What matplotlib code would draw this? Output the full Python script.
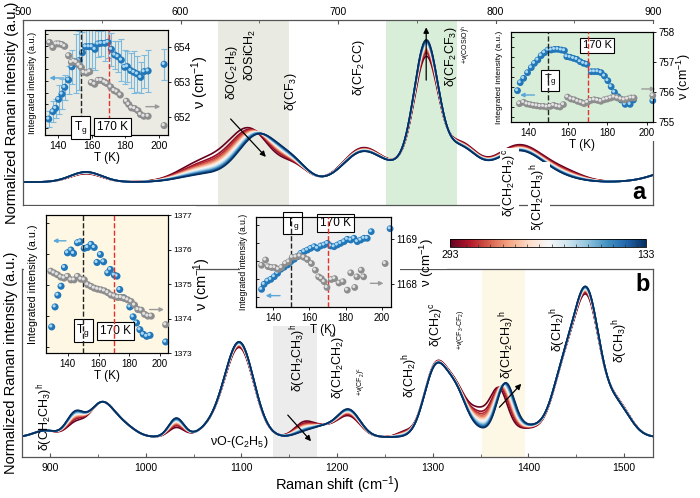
import numpy as np
import matplotlib
matplotlib.use('Agg')
import matplotlib.pyplot as plt
from matplotlib.transforms import offset_copy
from matplotlib.patches import Rectangle
from matplotlib.colors import Normalize
from matplotlib.cm import ScalarMappable
from matplotlib.ticker import MultipleLocator

plt.rcParams['font.family'] = ['Liberation Sans', 'DejaVu Sans']
plt.rcParams['mathtext.fontset'] = 'custom'
plt.rcParams['mathtext.rm'] = 'Liberation Sans'
plt.rcParams['mathtext.it'] = 'Liberation Sans:italic'
plt.rcParams['mathtext.bf'] = 'Liberation Sans:bold'

W, H = 700, 498

# ---------------- data ----------------
temps = [293, 283, 273, 263, 253, 243, 233, 223, 213, 203, 193, 183, 173, 163, 153, 143, 133]

# panel a : Gaussian band parameters (hot = 293 K, cold = 133 K)
a_center_hot  = [540, 615, 644, 672, 715, 756, 750, 778, 815, 845, 925]
a_center_cold = [540, 615, 650, 672, 715, 756, 750, 778, 815, 845, 925]
a_width       = [10, 15, 13, 9, 12, 7.5, 18, 10, 16, 12, 18]
a_amp_hot     = [0.045, 0.11, 0.275, 0.08, 0.17, 0.57, 0.10, 0.17, 0.20, 0.04, 0.10]
a_amp_cold    = [0.055, 0.04, 0.255, 0.08, 0.15, 0.66, 0.10, 0.15, 0.17, 0.01, 0.10]
a_base = 0.124

# panel b
b_center_hot  = [895, 926, 954, 978, 1032, 1070, 1098, 1165, 1185, 1212, 1270, 1303, 1325, 1348, 1369, 1400, 1437, 1461, 1492]
b_center_cold = [895, 926, 954, 978, 1032, 1070, 1098, 1165, 1185, 1212, 1270, 1303, 1325, 1348, 1376, 1400, 1437, 1461, 1492]
b_width       = [12, 9, 13, 12, 8, 14, 15, 10, 12, 12, 8, 12, 11, 10, 9, 25, 12, 13, 14]
b_amp_hot     = [0.035, 0.065, 0.18, 0.05, 0.05, 0.05, 0.47, 0.07, 0.05, 0.11, 0.025, 0.37, 0.22, 0.115, 0.23, 0.045, 0.30, 0.70, 0.18]
b_amp_cold    = [0.035, 0.12, 0.18, 0.05, 0.10, 0.05, 0.50, 0.02, 0.05, 0.145, 0.0, 0.36, 0.21, 0.025, 0.25, 0.06, 0.30, 0.74, 0.17]
b_base = 0.106

# inset a1 (650 band)
a1_T_int = [134.5, 137, 138.6, 140.4, 142.4, 144, 146.3, 148.3, 150.9, 152.5, 154.5, 156.4, 158.4, 160.2, 162,
            163.8, 165.7, 168, 169.7, 171.7, 173.7, 175.6, 177.6, 179.6, 181.2, 183.2, 185.1, 187.1, 189.1, 191.1, 193.5, 203]
a1_int = [0.152, 0.222, 0.254, 0.34, 0.39, 0.454, 0.524, 0.65, 0.683, 0.708, 0.784, 0.841, 0.841, 0.841, 0.816, 0.867,
          0.873, 0.873, 0.883, 0.816, 0.762, 0.746, 0.714, 0.645, 0.651, 0.613, 0.597, 0.581, 0.549, 0.603, 0.61, 0.673]
a1_err = [0.08, 0.1, 0.09, 0.14, 0.14, 0.12, 0.13, 0.16, 0.28, 0.28, 0.2, 0.25, 0.25, 0.2, 0.2, 0.12, 0.12, 0.17,
          0.15, 0.16, 0.13, 0.15, 0.2, 0.16, 0.15, 0.17, 0.2, 0.17, 0.15, 0.16, 0.2, 0.15]
a1_T_nu = [135, 137, 139, 140.6, 142.4, 144, 146.3, 148, 149.5, 150.9, 152.5, 153.9, 155.4, 157.2, 158.8, 159.8, 161.8,
           163.8, 165.7, 167.7, 169.1, 171.3, 173.3, 175, 177, 180.6, 182, 183.6, 185.5, 187.5, 189, 191, 193.5, 203]
a1_nu = [654.14, 654.0, 654.1, 654.1, 654.08, 654.03, 653.76, 653.57, 653.6, 653.57, 653.49, 653.42, 653.28, 653.26,
         653.3, 652.99, 652.94, 653.05, 653.05, 653.0, 652.96, 652.86, 652.76, 652.72, 652.63, 652.45, 652.36, 652.26,
         652.24, 652.18, 652.07, 652.02, 652.02, 651.75]

# inset a2 (756 band)
a2_T_int = [134.4, 135.8, 137.5, 139.5, 141.4, 143, 144.7, 146.4, 148.1, 149.8, 151.5, 153.2, 154.9, 156.6, 158.2, 159.4,
            161.1, 162.8, 164.5, 166.2, 167.9, 169.6, 171.8, 173.4, 175.1, 176.8, 178.5, 180.2, 181.9, 183.6, 185.3, 187,
            189, 191.5, 193.2, 203]
a2_int = [0.348, 0.437, 0.485, 0.548, 0.604, 0.652, 0.689, 0.737, 0.77, 0.8, 0.8, 0.807, 0.807, 0.8, 0.793, 0.726, 0.719,
          0.707, 0.696, 0.67, 0.652, 0.641, 0.559, 0.559, 0.559, 0.548, 0.511, 0.459, 0.393, 0.33, 0.281, 0.244, 0.196,
          0.196, 0.244, 0.237]
a2_T_nu = [135.4, 137.5, 139.2, 140.8, 142.5, 144.2, 145.9, 147.6, 149.3, 151, 152.7, 154.4, 156, 157.7, 159.8, 161.5,
           163.2, 164.9, 166.6, 168.2, 169.9, 171.6, 173.3, 175, 176.7, 178.4, 180, 181.7, 183.4, 185.1, 186.8, 188.5,
           190.2, 191.9, 193.5, 203]
a2_nu = [755.61, 755.655, 755.60, 755.58, 755.555, 755.54, 755.52, 755.52, 755.50, 755.52, 755.555, 755.52, 755.50,
         755.58, 755.83, 755.765, 755.74, 755.69, 755.655, 755.61, 755.655, 755.72, 755.74, 755.72, 755.69, 755.74,
         755.765, 755.80, 755.83, 755.80, 755.765, 755.74, 755.765, 755.80, 755.80, 755.88]

# inset b1 (1373 band)
b1_T_int = [129.5, 131.7, 133.5, 135.6, 137.8, 139.8, 142, 143.7, 146.3, 148.1, 150.7, 152.9, 155.1, 157.2, 159, 161.2,
            163.3, 166, 167.7, 170.3, 172, 173.8, 176.4, 180.4, 182.5, 184.7, 186.9, 189.1, 191.3, 193.5, 203.7]
b1_int = [0.189, 0.334, 0.419, 0.484, 0.62, 0.726, 0.746, 0.722, 0.799, 0.806, 0.758, 0.765, 0.787, 0.765, 0.656, 0.714,
          0.661, 0.581, 0.605, 0.564, 0.557, 0.46, 0.4, 0.334, 0.262, 0.218, 0.169, 0.136, 0.121, 0.128, 0.08]
b1_T_nu = [128.9, 131, 133.2, 135.4, 137.6, 139.8, 142, 144.1, 146.3, 148.5, 150.7, 152.9, 155.1, 157.2, 159.4, 161.6,
           163.8, 166, 168.1, 170.3, 172.5, 174.7, 176.9, 179, 181.2, 183.4, 185.6, 187.8, 190, 192.1, 194.3, 203.7]
b1_nu = [1375.37, 1375.32, 1375.27, 1375.20, 1375.17, 1375.22, 1375.12, 1375.12, 1375.22, 1375.14, 1375.12, 1374.98,
         1374.93, 1374.88, 1374.85, 1374.83, 1374.80, 1374.75, 1374.68, 1374.65, 1374.61, 1374.61, 1374.58, 1374.54,
         1374.49, 1374.39, 1374.26, 1374.24, 1374.12, 1374.07, 1374.07, 1373.82]

# inset b2 (1168 band)
b2_T_int = [133.6, 135, 136.9, 138.7, 140.6, 142.4, 144.2, 146, 147.9, 149.7, 151.6, 153.4, 155.2, 157.1, 158.9, 160.7,
            162.6, 164.4, 166.2, 168.1, 169.9, 171.7, 173.6, 175.4, 177.2, 179.1, 180.9, 182.8, 184.6, 186.4, 188.3,
            190.1, 191.9, 194.1, 204.5]
b2_int = [0.196, 0.252, 0.289, 0.307, 0.337, 0.374, 0.419, 0.441, 0.467, 0.504, 0.53, 0.559, 0.596, 0.615, 0.633, 0.652,
          0.67, 0.652, 0.678, 0.689, 0.707, 0.678, 0.67, 0.689, 0.707, 0.726, 0.752, 0.744, 0.763, 0.726, 0.744, 0.763,
          0.763, 0.837, 0.87]
b2_T_nu = [133.6, 135.8, 137.2, 139.1, 140.9, 142.8, 144.6, 146.8, 148.6, 150.5, 152.5, 154.7, 156.9, 158.9, 161.1,
           163.3, 165.1, 166.6, 168.1, 169.7, 172.1, 173.9, 176.3, 178.5, 180.9, 182.8, 185, 186.2, 188.6, 189.9, 201.8]
b2_nu = [1168.41, 1168.53, 1168.38, 1168.36, 1168.36, 1168.32, 1168.36, 1168.45, 1168.49, 1168.59, 1168.60, 1168.62,
         1168.59, 1168.54, 1168.45, 1168.30, 1168.15, 1168.11, 1168.04, 1167.91, 1168.09, 1168.11, 1168.01, 1168.04,
         1167.85, 1168.24, 1167.91, 1168.15, 1168.30, 1168.15, 1168.45]

# band assignments
a_labels = [(633, 0.714, r'δO(C$_2$H$_5$)', 9), (644.6, 0.81, r'δOSiCH$_2$', 9), (670, 0.611, r'δ(CF$_3$)', 9),
            (713.4, 0.74, r'δ(CF$_2$CC)', 9), (771.5, 0.80, r'δ(CF$_2$CF$_3$)', 9),
            (781.5, 0.865, r'+ν(COSiO)$^{\mathrm{h}}$', 5)]
a_labels_low = [(809, 0.119, r'δ(CH$_2$CH$_2$)$^{\mathrm{c}}$'), (827.4, 0.038, r'δ(CH$_2$CH$_3$)$^{\mathrm{h}}$')]
b_labels = [(894.8, 0.213, r'δ(CH$_2$CH$_3$)$^{\mathrm{h}}$', 9), (1159, 0.527, r'δ(CH$_2$CH$_3$)$^{\mathrm{h}}$', 9),
            (1202, 0.489, r'δ(CH$_2$CH$_2$)$^{\mathrm{c}}$', 9), (1226, 0.404, r'+ν(CF$_2$)$^{\mathrm{c}}$', 5),
            (1276, 0.436, r'δ(CH$_2$)$^{\mathrm{h}}$', 9), (1304, 0.707, r'δ(CH$_2$)$^{\mathrm{c}}$', 9),
            (1329.5, 0.676, r'+ν(CF$_3$-CF$_2$)', 5), (1377.5, 0.596, r'δ(CH$_2$CH$_3$)$^{\mathrm{h}}$', 9),
            (1430.8, 0.676, r'δ(CH$_2$)$^{\mathrm{h}}$', 9), (1495.6, 0.622, r'δ(CH$_3$)$^{\mathrm{h}}$', 9)]

# ---------------- helpers ----------------
def spectrum(x, ch, cc, w, ah, ac, base, T):
    f = ((293.0 - T) / 160.0) ** 0.6
    y = np.full_like(x, base)
    for c1, c2, s, a1, a2 in zip(ch, cc, w, ah, ac):
        c = c1 + (c2 - c1) * f
        a = a1 + (a2 - a1) * f
        y += a * np.exp(-(x - c) ** 2 / (2 * s ** 2))
    return y

def fbox(x0, y0, x1, y1):
    return [x0 / W, 1 - y1 / H, (x1 - x0) / W, (y1 - y0) / H]

fig = plt.figure(figsize=(7, 4.98), dpi=100)
cmap = plt.get_cmap('RdBu_r')
norm = Normalize(133, 293)

def balls(ax, x, y, fc, hc, s):
    ax.scatter(x, y, s=s, c=fc, edgecolors='none', zorder=4, clip_on=False)
    tr = offset_copy(ax.transData, fig=fig, x=-0.7, y=0.7, units='points')
    ax.scatter(x, y, s=s * 0.2, c=hc, edgecolors='none', zorder=5, transform=tr, clip_on=False)

BLUE, BLUEHL = '#2277b8', '#a9d9f6'
GRAY, GRAYHL = '#8d8d8d', '#e2e2e2'
SPINE = '#555555'

# ---------------- panel a ----------------
axA = fig.add_axes(fbox(23, 20, 653, 205), zorder=0)
xa = np.linspace(500, 900, 900)
axA.axvspan(624, 668.6, color='#e9eae1', lw=0, zorder=0)
axA.axvspan(730.7, 775.5, color='#d9eed9', lw=0, zorder=0)
for T in temps:
    axA.plot(xa, spectrum(xa, a_center_hot, a_center_cold, a_width, a_amp_hot, a_amp_cold, a_base, T),
             color=cmap(norm(T)), lw=1.2, zorder=2)
axA.set_xlim(500, 900)
axA.set_ylim(0, 1)
axA.set_yticks([])
axA.xaxis.tick_top()
axA.set_xticks([500, 600, 700, 800, 900])
axA.xaxis.set_minor_locator(MultipleLocator(50))
axA.tick_params(axis='x', which='major', direction='in', length=3, labelsize=7.5, pad=2, color=SPINE)
axA.tick_params(axis='x', which='minor', direction='in', length=2, color=SPINE)
for sp in axA.spines.values():
    sp.set_color(SPINE)
    sp.set_linewidth(0.9)
axA.spines['right'].set_bounds(0, 0.351)
axA.set_ylabel('Normalized Raman intensity (a.u.)', fontsize=10.5, labelpad=3)
for x, y, s, fs in a_labels:
    axA.text(x, y, s, rotation=90, ha='center', va='center', fontsize=fs)
for x, y, s in a_labels_low:
    axA.text(x, y, s, rotation=90, ha='center', va='center', fontsize=9,
             bbox=dict(boxstyle='square,pad=0.1', fc='white', ec='none'), zorder=6)
axA.annotate('', xy=(655.4, 0.249), xytext=(630.6, 0.476),
             arrowprops=dict(arrowstyle='-|>', color='black', lw=0.9, mutation_scale=8), zorder=6)
axA.annotate('', xy=(756, 0.975), xytext=(756, 0.66),
             arrowprops=dict(arrowstyle='-|>', color='black', lw=0.9, mutation_scale=8), zorder=6)
axA.text(891, 0.065, 'a', fontsize=17, fontweight='bold', ha='center', va='center')

# ---------------- panel b ----------------
axB = fig.add_axes(fbox(22.3, 269, 652.7, 457), zorder=0)
xb = np.linspace(871, 1530, 1400)
axB.axvspan(1132.6, 1178.6, color='#ececec', lw=0, zorder=0)
axB.axvspan(1352, 1397, color='#fdf7e6', lw=0, zorder=0)
for T in temps:
    axB.plot(xb, spectrum(xb, b_center_hot, b_center_cold, b_width, b_amp_hot, b_amp_cold, b_base, T),
             color=cmap(norm(T)), lw=1.2, zorder=2)
axB.set_xlim(871, 1530)
axB.set_ylim(0, 1)
axB.set_yticks([])
axB.set_xticks([900, 1000, 1100, 1200, 1300, 1400, 1500])
axB.xaxis.set_minor_locator(MultipleLocator(50))
axB.tick_params(axis='x', which='major', direction='in', length=3, labelsize=7.5, pad=4, color=SPINE)
axB.tick_params(axis='x', which='minor', direction='in', length=2, color=SPINE)
for sp in axB.spines.values():
    sp.set_color(SPINE)
    sp.set_linewidth(0.9)
axB.set_ylabel('Normalized Raman intensity (a.u.)', fontsize=10.5, labelpad=3)
axB.set_xlabel('Raman shift (cm$^{-1}$)', fontsize=10.5, labelpad=1)
for x, y, s, fs in b_labels:
    axB.text(x, y, s, rotation=90, ha='center', va='center', fontsize=fs)
axB.text(1097.5, 0.08, r'νO-(C$_2$H$_5$)', ha='center', va='center', fontsize=9)
axB.annotate('', xy=(1174.8, 0.073), xytext=(1146.6, 0.234),
             arrowprops=dict(arrowstyle='-|>', color='black', lw=0.9, mutation_scale=8), zorder=6)
axB.annotate('', xy=(1394.6, 0.40), xytext=(1367.8, 0.254),
             arrowprops=dict(arrowstyle='-|>', color='black', lw=0.9, mutation_scale=8), zorder=6)
axB.text(1519.6, 0.915, 'b', fontsize=17, fontweight='bold', ha='center', va='center')

# white masks behind insets (hide main frame parts under inset label areas)
for (x0, y0, x1, y1) in [(496, 24, 700, 141), (24, 206, 196, 385), (240, 208, 447, 268.5),
                         (240, 268, 400, 326), (440, 230, 653, 262)]:
    fig.add_artist(Rectangle((x0 / W, 1 - y1 / H), (x1 - x0) / W, (y1 - y0) / H, transform=fig.transFigure,
                             facecolor='white', edgecolor='none', zorder=1))

# ---------------- insets ----------------
def setup_inset(rect, bg, xlim, rlim, rticks, lticks, fs_tick, fs_T, fs_int, fs_nu, rlabpad=0):
    ax = fig.add_axes(rect, zorder=2)
    ax.set_facecolor(bg)
    ax.set_xlim(*xlim)
    ax.set_ylim(0, 1)
    ax.set_xticks([140, 160, 180, 200])
    ax.set_yticks(lticks)
    ax.set_yticklabels([])
    ax.tick_params(axis='y', direction='in', length=2.5, width=0.6)
    ax.tick_params(axis='x', direction='out', length=2.5, width=0.6, labelsize=fs_tick, pad=1.5)
    ax.set_xlabel('T (K)', fontsize=fs_T, labelpad=1)
    ax.set_ylabel('Integrated intensity (a.u.)', fontsize=fs_int, labelpad=2)
    ax2 = ax.twinx()
    ax2.set_zorder(2.1)
    ax2.set_ylim(*rlim)
    ax2.set_yticks(rticks)
    ax2.tick_params(axis='y', direction='out', length=2.5, width=0.6, labelsize=fs_tick, pad=1.5)
    ax2.set_ylabel('ν (cm$^{-1}$)', fontsize=fs_nu, labelpad=rlabpad)
    for a in (ax, ax2):
        for sp in a.spines.values():
            sp.set_linewidth(0.8)
    return ax, ax2

def boxlabel(ax, x, y, s, fs):
    ax.text(x, y, s, ha='center', va='center', fontsize=fs, zorder=7,
            bbox=dict(boxstyle='square,pad=0.25', fc='white', ec='black', lw=0.8))

def arrow(ax, x0, x1, y, color):
    ax.annotate('', xy=(x1, y), xytext=(x0, y), annotation_clip=False,
                arrowprops=dict(arrowstyle='-|>', color=color, lw=1.0, mutation_scale=6), zorder=6)

# inset a1
i1, i1r = setup_inset(fbox(45, 30, 168, 135), '#ebebe3', (132.3, 205.3), (651.48, 654.5), [652, 653, 654],
                      np.arange(0.067, 1.0, 0.112), 7.5, 8.5, 6.6, 10.5, rlabpad=-1)
i1.errorbar(a1_T_int, a1_int, yerr=a1_err, fmt='none', ecolor='#7db9dc', elinewidth=0.8, capsize=2.5,
            capthick=0.8, zorder=3)
balls(i1, a1_T_int, a1_int, BLUE, BLUEHL, 26)
balls(i1r, a1_T_nu, a1_nu, GRAY, GRAYHL, 26)
i1r.axvline(153.5, color='#222222', ls='--', lw=1, zorder=3)
i1r.axvline(170, color='#e8302a', ls='--', lw=1, zorder=3)
boxlabel(i1r, 153.4, 652.0 - 0.3, 'T$_\\mathrm{g}$', 8.5)
boxlabel(i1r, 172.4, 652.0 - 0.3, '170 K', 8.5)
arrow(i1, 145.2, 133.3, 0.543, '#5aa7d8')
arrow(i1, 190.5, 202.4, 0.27, '#9a9a9a')

# inset a2
i2, i2r = setup_inset(fbox(511, 32, 653, 122), '#d9eed9', (131.1, 203.1), (755, 758), [755, 756, 757, 758],
                      np.arange(0.06, 1.0, 0.111), 7, 8.5, 6, 9, rlabpad=0)
balls(i2, a2_T_int, a2_int, BLUE, BLUEHL, 24)
balls(i2r, a2_T_nu, a2_nu, GRAY, GRAYHL, 24)
i2r.axvline(150, color='#222222', ls='--', lw=1, zorder=3)
i2r.axvline(170, color='#e8302a', ls='--', lw=1, zorder=3)
boxlabel(i2, 151, 0.461, 'T$_\\mathrm{g}$', 8)
boxlabel(i2, 174.8, 0.85, '170 K', 8)
arrow(i2, 144.4, 134.3, 0.30, '#5aa7d8')
arrow(i2, 196, 205.7, 0.367, '#9a9a9a')

# inset b1
i3, i3r = setup_inset(fbox(46, 215, 168, 353), '#fdf7e4', (125.8, 205.2), (1373, 1377),
                      [1373, 1374, 1375, 1376, 1377], np.arange(0.04, 1.0, 0.225), 6, 8.5, 7.7, 10.5, rlabpad=-1)
i3.tick_params(axis='x', labelsize=7)
balls(i3, b1_T_int, b1_int, BLUE, BLUEHL, 26)
balls(i3r, b1_T_nu, b1_nu, GRAY, GRAYHL, 26)
i3r.axvline(150, color='#222222', ls='--', lw=1, zorder=3)
i3r.axvline(170, color='#e8302a', ls='--', lw=1, zorder=3)
boxlabel(i3, 150, 0.161, 'T$_\\mathrm{g}$', 8.5)
boxlabel(i3, 171, 0.161, '170 K', 8.5)
arrow(i3, 140.6, 128.5, 0.813, '#5aa7d8')
arrow(i3, 191.4, 204.4, 0.315, '#9a9a9a')

# inset b2
i4, i4r = setup_inset(fbox(256, 217, 391, 307), '#efefef', (130.5, 205), (1167.47, 1169.5), [1168, 1169],
                      np.arange(0.11, 1.0, 0.2), 7, 8.5, 6.2, 9.5, rlabpad=0)
balls(i4, b2_T_int, b2_int, BLUE, BLUEHL, 24)
balls(i4r, b2_T_nu, b2_nu, GRAY, GRAYHL, 24)
i4r.axvline(150, color='#222222', ls='--', lw=1, zorder=3)
i4r.axvline(170, color='#e8302a', ls='--', lw=1, zorder=3)
boxlabel(i4, 150.8, 0.933, 'T$_\\mathrm{g}$', 8.5)
boxlabel(i4, 174.2, 0.933, '170 K', 8.5)
arrow(i4, 145.3, 134.3, 0.126, '#5aa7d8')
arrow(i4, 192.1, 202.4, 0.263, '#9a9a9a')

# ---------------- colorbar ----------------
cax = fig.add_axes(fbox(450, 239, 646, 247), zorder=2)
cb = fig.colorbar(ScalarMappable(norm=norm, cmap=cmap), cax=cax, orientation='horizontal')
cax.invert_xaxis()
cb.set_ticks([293, 133])
cb.set_ticklabels(['293', '133'])
cax.xaxis.set_minor_locator(MultipleLocator(10))
cax.tick_params(which='major', length=0, labelsize=7.5, pad=2)
cax.tick_params(which='minor', length=2, direction='in', width=0.5, color='#333333')
cb.outline.set_linewidth(0.6)

fig.savefig('out.png', dpi=100)
